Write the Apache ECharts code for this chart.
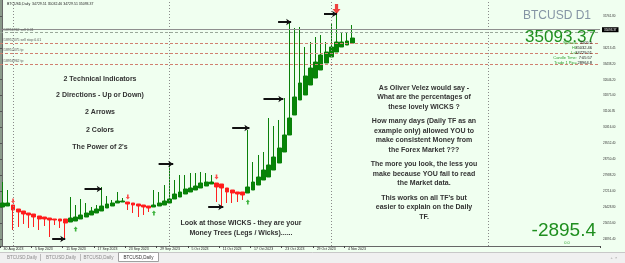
<!DOCTYPE html>
<html><head><meta charset="utf-8">
<script src="https://cdn.jsdelivr.net/npm/echarts@6/dist/echarts.min.js"></script>
<style>html,body{margin:0;padding:0;background:#f0fff0;}#c{width:625px;height:263px;}</style>
</head><body><div id="c"></div>
<script>
// ---- data ----
const startDate = '2023-08-30';
const nSlots = 115;
const tickIdx = [0, 6, 12, 18, 24, 30, 36, 42, 48, 54, 60, 66];
const tickLabels = ['30 Aug 2023', '5 Sep 2023', '11 Sep 2023', '17 Sep 2023', '23 Sep 2023', '29 Sep 2023', '5 Oct 2023', '11 Oct 2023', '17 Oct 2023', '23 Oct 2023', '29 Oct 2023', '4 Nov 2023'];
const monthStarts = ['2023-09-01', '2023-10-01', '2023-11-01', '2023-12-01'];
const priceLabels = ['24891.40', '25655.60', '26428.80', '27214.00', '27988.20', '28750.40', '29552.40', '30316.00', '31100.85', '31875.00', '32646.20', '33438.20', '34213.45', '', '35761.80'];
// Heiken-Ashi style bars: open, close, low, high
const haOpen  = [26451,26499,26548,26353,26256,26158,26109,26012,25963,25914,25866,25866,25866,25719,25768,25866,25963,26061,26158,26256,26402,26499,26646,26694,26694,26646,26597,26548,26499,26451,26499,26548,26646,26841,26938,27084,27182,27279,27377,27474,27572,27621,27572,27377,27279,27182,27182,27133,27279,27523,27767,27913,28254,28596,29132,29961,30936,31667,31911,32398,32739,33129,33471,33763,34007,34251,34348,34446];
const haClose = [26646,26646,26304,26207,26109,26061,25963,25866,25866,25817,25817,25768,25671,25914,25963,26061,26158,26256,26353,26499,26597,26646,26743,26743,26597,26548,26499,26451,26402,26548,26646,26743,26841,27084,27182,27328,27377,27474,27621,27669,27669,27426,27377,27182,27133,27084,27036,27426,27669,27913,28254,28498,28888,29327,29961,30789,31813,32496,32837,33227,33519,33861,34007,34251,34494,34494,34543,34689];
const haLow   = [26451,26499,25329,25476,25622,25427,25476,25329,25524,24988,25573,25427,24842,25719,25768,25866,25963,26061,26158,26256,26402,26499,26646,26694,26304,26158,25963,26061,26207,26451,26499,26548,26646,26841,26938,27084,27182,27279,27377,27474,27572,26694,26499,26646,26646,26694,26792,27133,27279,27523,27767,27913,28254,28596,29132,29961,30936,31667,31911,32398,32739,33129,33471,33763,34007,34251,34348,34446];
const haHigh  = [27669,27279,26548,26353,26256,26158,26109,26012,25963,25914,25866,25866,25866,26938,26548,26841,26646,26451,26548,27426,26987,26792,27182,26889,26694,26646,26597,26548,26499,27279,27182,27523,28596,27767,28011,28011,28108,28108,28157,28108,28011,27621,27572,27377,27279,27182,27182,30204,28644,28986,29132,30789,30399,30692,31764,35469,35177,35226,34251,34494,34738,34836,34494,35420,35957,34933,34933,35323];
const bidPrice = 35093.37;
const orderPrices = [34957, 34446, 33958, 33422];
const orderNames = ['#18956962 sell 0.01', '#18952475 sell stop 0.01', '#18952475 tp', '#18956962 tp'];
const sellSignalIdx = [2, 24, 41];
const sellSignalPrice = [26743, 26938, 27913];
const buySignalIdx = [14, 29, 47];
const buySignalPrice = [25378, 26158, 26694];
const bigSellIdx = [64];
const bigSellPrice = [36103];
const arrowFrom = [9.5, 15.7, 29.9, 39.4, 44.0, 50.0, 52.8, 61.6];
const arrowTo = [12.0, 19.0, 32.7, 42.3, 47.3, 53.8, 55.3, 64.1];
const arrowPrice = [24891, 27328, 28547, 26451, 30302, 31716, 35469, 35859];

// ---- build ----
const cats = [];
{
  const d0 = new Date(startDate + 'T00:00:00Z');
  for (let i = 0; i < nSlots; i++) {
    const d = new Date(d0.getTime() + i * 86400000);
    cats.push(d.toISOString().slice(0, 10));
  }
}
const labelMap = {};
tickIdx.forEach((k, j) => labelMap[k] = tickLabels[j]);
const bars = haOpen.map((o, i) => [o, haClose[i], haLow[i], haHigh[i]]);

const FONT = '"Liberation Sans", Arial, sans-serif';
const chart = echarts.init(document.getElementById('c'), null, {renderer: 'canvas'});

function txt(text, x, y, o) {
  o = o || {};
  return {
    type: 'text', x: x, y: y, silent: true, z: o.z || 50,
    style: Object.assign({
      text: text, fill: o.fill || '#333', font: o.font || ('bold 7px ' + FONT),
      align: o.align || 'center', verticalAlign: 'middle'
    }, o.shadow ? {shadowColor: 'rgba(0,0,0,0.45)', shadowBlur: 1.5, shadowOffsetX: 0.8, shadowOffsetY: 0.8} : {})
  };
}
const g = [];
// left frame strip
g.push({type: 'rect', shape: {x: 0, y: 0, width: 2, height: 247}, style: {fill: '#8a9a8a'}, silent: true});
// tab bar
g.push({type: 'rect', shape: {x: 0, y: 252, width: 625, height: 11}, style: {fill: '#f0f0f0'}, silent: true});
g.push({type: 'line', shape: {x1: 0, y1: 252.5, x2: 625, y2: 252.5}, style: {stroke: '#c8c8c8', lineWidth: 1}, silent: true});
g.push({type: 'rect', shape: {x: 118.5, y: 252.5, width: 40, height: 9}, style: {fill: '#ffffff', stroke: '#a0a0a0', lineWidth: 1}, silent: true});
[[22, '#8a8a8a'], [61, '#8a8a8a'], [98.5, '#8a8a8a'], [138.5, '#333']].forEach(t => g.push(txt('BTCUSD,Daily', t[0], 257.5, {font: '4.5px ' + FONT, fill: t[1]})));
[40.5, 80.5].forEach(x => g.push({type: 'line', shape: {x1: x, y1: 254, x2: x, y2: 261}, style: {stroke: '#bbb', lineWidth: 1}, silent: true}));
g.push(txt('+  \u00d7', 614, 257.5, {font: '4px ' + FONT, fill: '#999'}));
// title
g.push(txt('BTCUSD,Daily  34729.51 35032.46 34729.51 35093.37', 7, 4.5, {font: '3.5px ' + FONT, fill: '#222', align: 'left'}));
// big right texts
g.push(txt('BTCUSD D1', 591, 15.5, {font: '12px ' + FONT, fill: '#8494a4', align: 'right'}));
g.push(txt('35093.37', 596, 37, {font: '17px ' + FONT, fill: '#1f8f1f', align: 'right'}));
const info = [['Spread: ', '3505.0', 42.5], ['Hi: ', '35032.46', 47.5], ['Lo: ', '34729.51', 52.5], ['Candle Time: ', '7:05:57', 57.5], ['Trade 1 Pip= ', '28964.8', 62.5]];
info.forEach(r => {
  g.push(txt(r[1], 592, r[2], {font: '4px ' + FONT, fill: '#111', align: 'right', z: 52}));
  g.push(txt(r[0], 578, r[2], {font: '4px ' + FONT, fill: '#2f9f2f', align: 'right', z: 52}));
});
g.push(txt('-2895.4', 596, 231, {font: '19px ' + FONT, fill: '#1f8f1f', align: 'right'}));
g.push(txt('0.0', 567, 243, {font: '4px ' + FONT, fill: '#2f9f2f'}));
// annotation texts
const leftBlock = ['2 Technical Indicators', '2 Directions - Up or Down)', '2 Arrows', '2 Colors', "The Power of 2's"];
const leftY = [79, 95, 112.5, 130, 147];
leftBlock.forEach((s, i) => g.push(txt(s, 100, leftY[i], {shadow: true})));
const rightBlock = ['As Oliver Velez would say -', 'What are the percentages of', 'these lovely WICKS ?', 'How many days (Daily TF as an', 'example only) allowed YOU to', 'make consistent Money from', 'the Forex Market ???', 'The more you look, the less you', 'make because YOU fail to read', 'the Market data.', "This works on all TF's but", 'easier to explain on the Daily', 'TF.'];
const rightY = [88, 97.5, 107, 121.5, 131, 140.5, 150, 164.5, 174, 183.5, 198, 207.5, 217];
rightBlock.forEach((s, i) => g.push(txt(s, 424, rightY[i], {shadow: true})));
g.push(txt('Look at those WICKS - they are your', 241, 223, {shadow: true}));
g.push(txt('Money Trees (Legs / Wicks)......', 241, 233, {shadow: true}));

const arrowPath = 'path://M3,0 L7,0 L7,5 L10,5 L5,10 L0,5 L3,5 Z';

const option = {
  backgroundColor: '#f0fff0',
  animation: false,
  grid: [
    {left: -2, right: 25, top: 0, bottom: 17},
    {left: -2, right: 25, top: 16, bottom: 24}
  ],
  xAxis: [
    {type: 'category', gridIndex: 0, data: cats, boundaryGap: true,
     axisLine: {show: true, lineStyle: {color: '#666', width: 1}},
     axisTick: {show: true, length: 2, interval: (i) => labelMap[i] !== undefined, lineStyle: {color: '#444'}},
     axisLabel: {show: true, interval: (i) => labelMap[i] !== undefined, formatter: (v, i) => labelMap[i] || '',
                 fontSize: 3.5, fontFamily: FONT, color: '#222', align: 'left', margin: 1.5, padding: [0, 0, 0, 1]},
     splitLine: {show: false}},
    {type: 'value', gridIndex: 0, min: -0.5, max: nSlots - 0.5, show: false},
    {type: 'value', gridIndex: 1, show: false}
  ],
  yAxis: [
    {type: 'value', gridIndex: 0, position: 'right', min: 24549.3, max: 36541.8, scale: true,
     axisLine: {show: true, lineStyle: {color: '#666', width: 1}}, axisTick: {show: false},
     axisLabel: {show: false}, splitLine: {show: false}},
    {type: 'category', gridIndex: 1, position: 'right', boundaryGap: false, data: priceLabels,
     axisLine: {show: false}, axisTick: {show: true, length: 2, lineStyle: {color: '#555'}},
     axisLabel: {fontSize: 3, fontFamily: FONT, color: '#333', margin: 3}, splitLine: {show: false}}
  ],
  graphic: g,
  series: [
    {type: 'candlestick', xAxisIndex: 0, yAxisIndex: 0, data: bars, barWidth: 4.4,
     itemStyle: {color: '#078507', color0: '#ff1a1a', borderColor: '#0a800a', borderColor0: '#ff2020', borderWidth: 1},
     markLine: {
       silent: true, symbol: ['none', 'none'], animation: false,
       data: [
         {yAxis: bidPrice, lineStyle: {color: '#8f8f8f', type: 'solid', width: 1},
          label: {show: true, position: 'end', formatter: bidPrice.toFixed(2), backgroundColor: '#000', color: '#fff', fontSize: 3, fontFamily: FONT, padding: [1, 2], distance: 2}},
       ].concat(orderPrices.map((p, i) => ({yAxis: p,
          lineStyle: {color: i === 0 ? '#9aa89a' : '#d08070', type: [3, 2], width: 1},
          label: {show: true, position: 'insideStartTop', formatter: orderNames[i], color: '#555', fontSize: 3.5, fontFamily: FONT, distance: [2, 0.5]}})))
         .concat(monthStarts.map(m => ({xAxis: m, lineStyle: {color: '#8a8a8a', type: [1, 2], width: 1}, label: {show: false}})))
     }},
    {type: 'scatter', xAxisIndex: 0, yAxisIndex: 0, symbol: arrowPath, symbolSize: [4, 5],
     itemStyle: {color: '#ff2020'}, data: sellSignalIdx.map((k, i) => [k, sellSignalPrice[i]]), z: 5},
    {type: 'scatter', xAxisIndex: 0, yAxisIndex: 0, symbol: arrowPath, symbolSize: [4, 5], symbolRotate: 180,
     itemStyle: {color: '#10a010'}, data: buySignalIdx.map((k, i) => [k, buySignalPrice[i]]), z: 5},
    {type: 'scatter', xAxisIndex: 0, yAxisIndex: 0, symbol: arrowPath, symbolSize: [8, 10],
     itemStyle: {color: '#ee1111'}, data: bigSellIdx.map((k, i) => [k, bigSellPrice[i]]), z: 5},
    {type: 'lines', coordinateSystem: 'cartesian2d', xAxisIndex: 1, yAxisIndex: 0, polyline: false,
     symbol: ['none', 'arrow'], symbolSize: 5,
     lineStyle: {color: '#111', width: 2, opacity: 1},
     data: arrowFrom.map((a, i) => ({coords: [[a, arrowPrice[i]], [arrowTo[i], arrowPrice[i]]]})), z: 6}
  ]
};
chart.setOption(option);
</script>
</body></html>
